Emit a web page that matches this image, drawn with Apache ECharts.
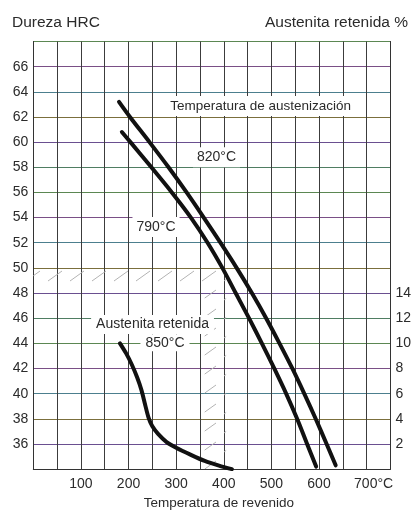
<!DOCTYPE html>
<html>
<head>
<meta charset="utf-8">
<script src="https://cdn.jsdelivr.net/npm/echarts@6/dist/echarts.min.js"></script>
<style>
  html, body { margin: 0; padding: 0; background: #fff; }
  #chart { width: 414px; height: 515px; }
</style>
</head>
<body>
<div id="chart"></div>
<script>
// Hardness (HRC) after tempering, austenitized at 820 °C
const temp820 = [180, 203, 244, 284, 322, 358, 393, 427, 459, 489, 517, 544, 569, 593, 616, 635];
const hrc820  = [63.2, 62, 60, 58, 56, 54, 52, 50, 48, 46, 44, 42, 40, 38, 36, 34.3];

// Hardness (HRC) after tempering, austenitized at 790 °C
const temp790 = [186, 204, 248, 291, 331, 366, 397, 425, 453, 480, 506, 531, 554, 575, 594];
const hrc790  = [60.8, 60, 58, 56, 54, 52, 50, 48, 46, 44, 42, 40, 38, 36, 34.2];

// Retained austenite (%) after tempering, austenitized at 850 °C
const temp850 = [182, 195, 207, 218, 227, 235, 242, 250, 262, 280, 300, 330, 360, 390, 417];
const aust850 = [10, 9.2, 8.3, 7.3, 6.3, 5.1, 4.1, 3.4, 2.8, 2.15, 1.7, 1.15, 0.65, 0.28, 0];

// Tick labels that are printed on each axis
const tempTickLabels = [100, 200, 300, 400, 500, 600, 700];
const hrcTickLabels  = [36, 38, 40, 42, 44, 46, 48, 50, 52, 54, 56, 58, 60, 62, 64, 66];
const austTickLabels = [2, 4, 6, 8, 10, 12, 14];

const pairs = (xs, ys) => xs.map((x, i) => [x, ys[i]]);

const FONT = '"Liberation Sans", Arial, Helvetica, sans-serif';
const INK = '#2b2b2b';

// Light diagonal hatch tile for the shaded band
const tile = document.createElement('canvas');
tile.width = 22; tile.height = 19;
const g = tile.getContext('2d');
g.strokeStyle = '#b3b3b3';
g.lineWidth = 1;
g.beginPath(); g.moveTo(4, 15); g.lineTo(18, 5); g.stroke();

const chart = echarts.init(document.getElementById('chart'), null, { renderer: 'canvas' });

const curveStyle = { color: '#111', width: 4, cap: 'round', join: 'round' };

chart.setOption({
  animation: false,
  backgroundColor: '#fff',
  grid: { left: 33.3, right: 21.3, top: 41.5, bottom: 38.5, containLabel: false },
  xAxis: {
    type: 'value', min: 0, max: 750, interval: 50,
    name: 'Temperatura de revenido', nameLocation: 'middle', nameGap: 24,
    nameTextStyle: { fontFamily: FONT, fontSize: 13.5, color: INK, padding: [0, 0, 0, 14] },
    axisLine: { show: true, lineStyle: { color: '#333', width: 1 } },
    axisTick: { show: false },
    axisLabel: {
      margin: 8, fontFamily: FONT, fontSize: 14, color: INK,
      formatter: v => {
        if (!tempTickLabels.includes(v)) return '';
        return v === 700 ? '{u|700°C}' : String(v);
      },
      rich: { u: { fontFamily: FONT, fontSize: 14, color: INK, padding: [0, 0, 0, 14] } }
    },
    splitLine: { show: true, lineStyle: { color: '#3c3c3c', width: 1 } }
  },
  yAxis: [
    {
      type: 'value', min: 34, max: 68, interval: 2,
      axisLine: { show: true, lineStyle: { color: '#333', width: 1 } },
      axisTick: { show: false },
      axisLabel: {
        margin: 5, fontFamily: FONT, fontSize: 14, color: INK,
        formatter: v => hrcTickLabels.includes(v) ? String(v) : ''
      },
      splitLine: {
        show: true,
        lineStyle: { width: 1, color: ['#4f7d62', '#6a4f90', '#7b6f3c', '#4c7f8e', '#7a4f86', '#5b8752'] }
      }
    },
    {
      type: 'value', min: 0, max: 34, interval: 2, position: 'right',
      axisLine: { show: true, lineStyle: { color: '#333', width: 1 } },
      axisTick: { show: false },
      axisLabel: {
        margin: 5, fontFamily: FONT, fontSize: 14, color: INK,
        formatter: v => austTickLabels.includes(v) ? String(v) : ''
      },
      splitLine: { show: false }
    }
  ],
  series: [
    {
      name: '820 °C', type: 'line', yAxisIndex: 0, smooth: 0.3,
      showSymbol: false, symbol: 'none',
      lineStyle: curveStyle,
      data: pairs(temp820, hrc820),
      z: 5,
      markArea: {
        silent: true,
        itemStyle: { color: { image: tile, repeat: 'repeat' } },
        data: [
          [{ coord: [0, 48.6] }, { coord: [405, 50] }],
          [{ coord: [360, 34] }, { coord: [405, 48.6] }]
        ]
      }
    },
    {
      name: '790 °C', type: 'line', yAxisIndex: 0, smooth: 0.3,
      showSymbol: false, symbol: 'none',
      lineStyle: curveStyle,
      data: pairs(temp790, hrc790),
      z: 5
    },
    {
      name: 'Austenita retenida 850 °C', type: 'line', yAxisIndex: 1, smooth: 0.3,
      showSymbol: false, symbol: 'none',
      lineStyle: curveStyle,
      data: pairs(temp850, aust850),
      z: 5
    }
  ]
});

// Annotations placed in data space (°C, HRC)
const notes = [
  { text: 'Temperatura de austenización', at: [477.5, 62.87], size: 13.5, pad: [3, 4, 3, 4] },
  { text: '820°C', at: [384.8, 58.8], size: 14, pad: [3, 4, 3, 4] },
  { text: '790°C', at: [257.7, 53.26], size: 14, pad: [3, 4, 3, 4] },
  { text: 'Austenita retenida', at: [250.4, 45.5], size: 14, pad: [3, 5, 2, 5] },
  { text: '850°C', at: [276.5, 44.04], size: 14, pad: [1, 5, 2, 5] }
];

const graphics = notes.map(n => {
  const p = chart.convertToPixel({ xAxisIndex: 0, yAxisIndex: 0 }, n.at);
  return {
    type: 'text', x: p[0], y: p[1], z: 10,
    style: {
      text: n.text, fill: INK,
      font: n.size + 'px ' + FONT,
      align: 'center', verticalAlign: 'middle',
      backgroundColor: '#fff', padding: n.pad
    }
  };
});

graphics.push(
  { type: 'text', x: 12, y: 23, style: { text: 'Dureza HRC', fill: INK, font: '15.5px ' + FONT, align: 'left', verticalAlign: 'middle' } },
  { type: 'text', x: 408, y: 23, style: { text: 'Austenita retenida %', fill: INK, font: '15.5px ' + FONT, align: 'right', verticalAlign: 'middle' } }
);

chart.setOption({ graphic: graphics });
</script>
</body>
</html>
